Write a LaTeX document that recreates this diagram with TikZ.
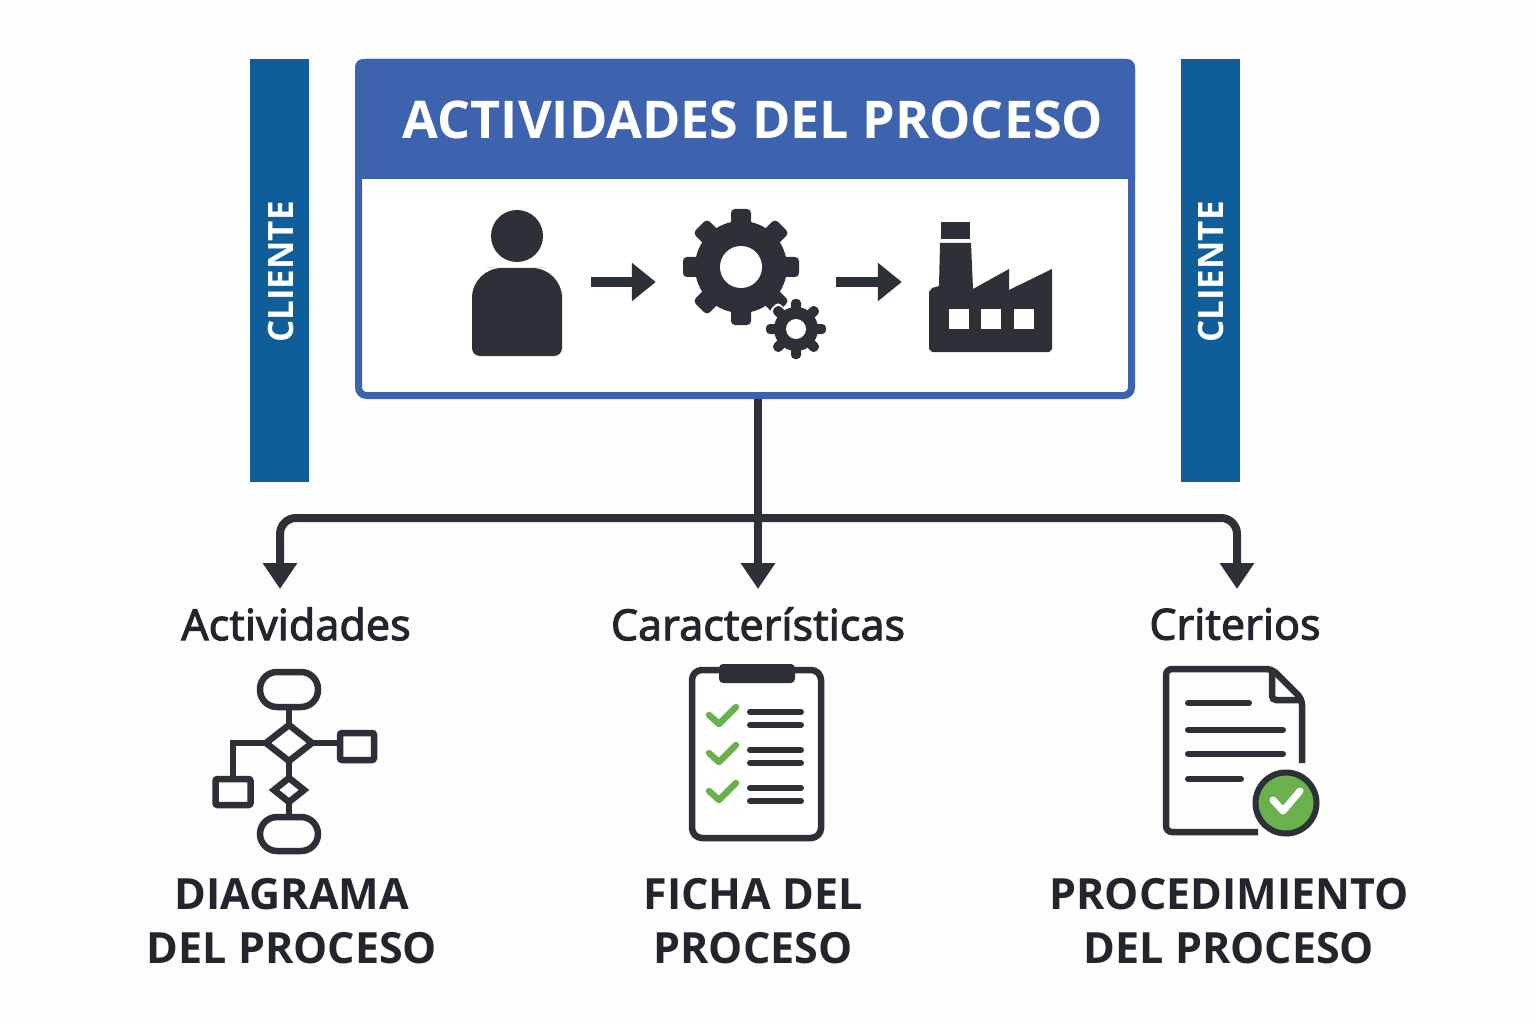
\documentclass[tikz,border=0pt]{standalone}
\usepackage{fontspec}
\setmainfont{Open Sans}
\newfontfamily\medfont[FakeBold=2.2]{Noto Sans}
\usetikzlibrary{arrows.meta,shapes.geometric}
\definecolor{azul}{HTML}{3D62AE}
\definecolor{azulbar}{HTML}{0F5E99}
\definecolor{oscuro}{HTML}{2D3037}
\definecolor{tinta}{HTML}{22252B}
\definecolor{verde}{HTML}{6AB04C}
\definecolor{fondo}{HTML}{FDFDFD}
\tikzset{
  conector/.style={draw=oscuro, line width=8pt, -{Triangle[length=26pt,width=33pt]}},
  flechita/.style={draw=oscuro, line width=10pt, -{Triangle[length=24pt,width=37pt]}},
  barra/.style={fill=azulbar, minimum width=59pt, minimum height=423pt, inner sep=0pt},
  cliente/.style={text=white, rotate=90, font=\fontsize{35}{37}\selectfont\bfseries},
  etiqueta/.style={text=tinta, font=\fontsize{43}{46}\selectfont\medfont},
  titulo/.style={text=tinta, align=center, font=\fontsize{43}{54}\selectfont\bfseries},
  icono/.style={inner sep=0pt, minimum height=10pt},
  trazo/.style={draw=oscuro, line width=6.5pt, inner sep=0pt, outer sep=0pt},
  fila/.style={draw=oscuro, line width=6pt, line cap=round},
  visto/.style={draw=verde, line width=6.5pt, line cap=round, line join=round},
}
\newcommand{\rueda}[6]{% cx, cy, body, outer, tooth, colour
  \fill[#6] (#1,#2) circle (#3);
  \foreach \a in {0,45,...,315}
    \fill[#6, rounded corners=4pt, shift={(#1,#2)}, rotate=\a]
      (-#5,0) -- (-#5,-#4) -- (#5,-#4) -- (#5,0) -- cycle;
}
\begin{document}
\begin{tikzpicture}[x=1pt, y=-1pt]
  \fill[fondo] (0,0) rectangle (1536,1024);
  \useasboundingbox (0,0) rectangle (1536,1024);

  % side bars
  \node[barra] (barraI) at (279.5,270.5) {};
  \node[barra] (barraD) at (1210.5,270.5) {};
  \node[cliente] (clienteI) at (281,272) {CLIENTE};
  \node[cliente] (clienteD) at (1211,272) {CLIENTE};

  % main box
  \node[draw=azul, fill=white, line width=7pt, rounded corners=8pt, minimum width=773pt, minimum height=333pt, inner sep=0pt] (caja) at (745,229) {};
  \fill[azul, rounded corners=8pt] (355,179) -- (355,59) -- (1135,59) -- (1135,179);
  \node[text=white, font=\fontsize{52}{60}\selectfont\bfseries] (cabecera) at (753,120) {ACTIVIDADES DEL PROCESO};

  % icons inside the box
  \node[icono, minimum width=90pt] (persona) at (517,282) {};
  \node[icono, minimum width=114pt] (engranaje) at (741,282) {};
  \node[icono, minimum width=124pt] (fabrica) at (990,282) {};
  \draw[flechita, shorten <=29pt, shorten >=28pt] (persona) -- (engranaje);
  \draw[flechita, shorten <=38pt, shorten >=26pt] (engranaje) -- (fabrica);

  \fill[oscuro] (517,236) circle (26);
  \fill[oscuro, rounded corners=30pt] (517,268) -- (562,268) -- (562,320) [rounded corners=8pt] -- (562,356) -- (472,356) -- (472,320) [rounded corners=30pt] -- (472,268) -- cycle;

  \rueda{741}{267}{46}{58}{10}{oscuro}
  \fill[white] (741,267) circle (21);
  \rueda{796}{329}{24}{32}{6.5}{white}
  \rueda{796}{329}{22}{30}{5}{oscuro}
  \fill[white] (796,329) circle (10);

  \fill[oscuro] (941,222) rectangle (970,239);
  \fill[oscuro] (940,243) -- (971,243) -- (973,289) -- (1009,269) -- (1009,290) -- (1052,269)
    -- (1052,349) -- (1049,352) -- (932,352) -- (929,349) -- (929,292) -- (932,288) -- (939,286) -- cycle;
  \foreach \x in {949,981,1014}
    \fill[white] (\x,309) rectangle ++(20,20);

  % connectors
  \coordinate (flechaA) at (280,589);
  \coordinate (flechaB) at (758,589);
  \coordinate (flechaC) at (1237,589);
  \coordinate (bus) at (758,518);
  \draw[conector] (caja.south -| flechaB) -- (flechaB);
  \draw[conector, rounded corners=16pt] (bus) -| (flechaA);
  \draw[conector, rounded corners=16pt] (bus) -| (flechaC);

  % column headings
  \node[etiqueta] (actividades) at (296,624) {Actividades};
  \node[etiqueta] (caracteristicas) at (758,624) {Características};
  \node[etiqueta] (criterios) at (1235,624) {Criterios};

  % flow diagram icon
  \node[trazo, rounded corners=17pt, minimum width=58pt, minimum height=35pt] (inicio) at (289,689.5) {};
  \node[trazo, diamond, minimum width=46pt, minimum height=36pt] (romboA) at (289,743) {};
  \node[trazo, diamond, minimum width=30pt, minimum height=24pt] (romboB) at (289,790) {};
  \node[trazo, rounded corners=17pt, minimum width=58pt, minimum height=34pt] (final) at (289,834) {};
  \node[trazo, rounded corners=2pt, minimum width=34pt, minimum height=27pt] (pasoD) at (357,746.5) {};
  \node[trazo, rounded corners=2pt, minimum width=35pt, minimum height=26pt] (pasoI) at (233,792) {};
  \draw[trazo] (inicio) -- (romboA);
  \draw[trazo] (romboA) -- (romboB);
  \draw[trazo] (romboB) -- (final);
  \draw[trazo] (romboA) -- (pasoD.west |- romboA);
  \draw[trazo] (romboA.west) -| (pasoI.north);

  % clipboard icon
  \draw[trazo, fill=white, rounded corners=10pt] (692,670) rectangle (821,838);
  \fill[oscuro, rounded corners=4pt] (719,664) rectangle (795,683);
  \foreach \y in {0,38,76} {
    \draw[visto] (709,715+\y) -- (719,724+\y) -- (736,707+\y);
    \draw[fila] (750,712+\y) -- (801,712+\y);
    \draw[fila] (750,725+\y) -- (801,725+\y);
  }

  % document icon
  \draw[trazo, rounded corners=6pt] (1302,763) -- (1302,699) -- (1272,669) -- (1166,669) -- (1166,832) -- (1258,832);
  \draw[trazo, rounded corners=4pt] (1272,669) -- (1272,700) -- (1302,700);
  \draw[fila] (1188,703) -- (1249,703);
  \draw[fila] (1188,730) -- (1283,730);
  \draw[fila] (1188,754) -- (1283,754);
  \draw[fila] (1188,779) -- (1241,779);
  \draw[fill=verde, draw=oscuro, line width=6pt] (1286,803) circle (30.5);
  \draw[draw=white, line width=7pt, line cap=round, line join=round] (1273,800) -- (1283,811) -- (1300,791);

  % bottom titles
  \node[titulo] (diagrama) at (292,921) {DIAGRAMA\\DEL PROCESO};
  \node[titulo] (ficha) at (753,921) {FICHA DEL\\PROCESO};
  \node[titulo] (procedimiento) at (1229,921) {PROCEDIMIENTO\\DEL PROCESO};
\end{tikzpicture}
\end{document}
